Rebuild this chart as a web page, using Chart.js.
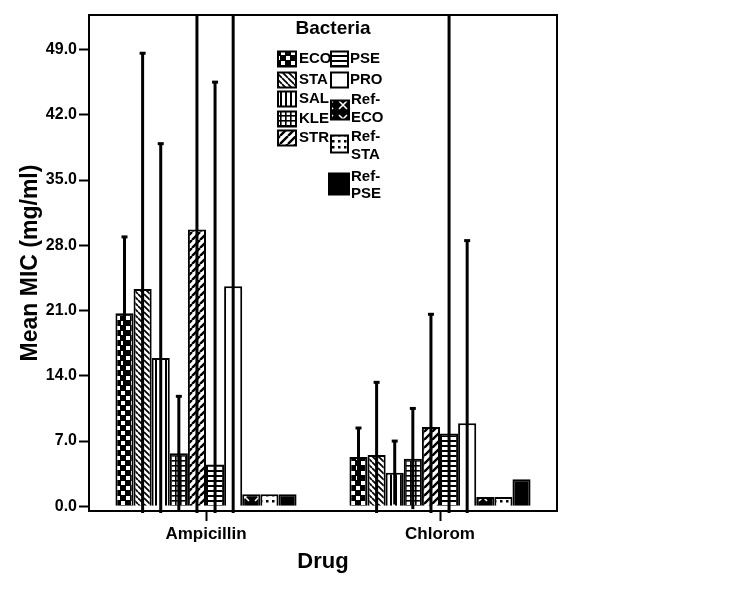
<!DOCTYPE html>
<html>
<head>
<meta charset="utf-8">
<script src="https://cdn.jsdelivr.net/npm/chart.js@4.4.1/dist/chart.umd.min.js"></script>
<style>
  html, body { margin: 0; padding: 0; background: #fff; }
  #wrap { width: 750px; height: 613px; }
</style>
</head>
<body>
<div id="wrap"><canvas id="c" width="750" height="613"></canvas></div>
<script>
// ---- data ----
const drugs = ['Ampicillin', 'Chlorom'];
const bacteria = ['ECO', 'STA', 'SAL', 'KLE', 'STR', 'PSE', 'PRO', 'Ref-ECO', 'Ref-STA', 'Ref-PSE'];
const meanAmpicillin = [20.7, 23.3, 15.9, 5.7, 29.7, 4.5, 23.6, 1.3, 1.3, 1.3];
const meanChlorom    = [5.3, 5.5, 3.6, 5.1, 8.5, 7.8, 8.9, 1.0, 1.0, 2.9];
// upper end of the error bars (null = no error bar)
const upperAmpicillin = [28.9, 48.6, 38.9, 11.8, 62.0, 45.5, 64.0, null, null, null];
const upperChlorom    = [8.4, 13.3, 7.0, 10.5, 20.6, 60.0, 28.5, null, null, null];
const yTicks = [0, 7, 14, 21, 28, 35, 42, 49];
const yTitle = 'Mean MIC (mg/ml)';
const xTitle = 'Drug';
const legendTitle = 'Bacteria';

Chart.defaults.font.family = '"Liberation Sans", Arial, Helvetica, sans-serif';
Chart.defaults.font.weight = 'bold';
Chart.defaults.color = '#000';

const canvas = document.getElementById('c');
const ctx = canvas.getContext('2d');

function makePattern(w, h, bg, draw) {
  const c = document.createElement('canvas');
  c.width = w; c.height = h;
  const g = c.getContext('2d');
  g.fillStyle = bg; g.fillRect(0, 0, w, h);
  g.fillStyle = '#000'; g.strokeStyle = '#000';
  draw(g, w, h);
  return ctx.createPattern(c, 'repeat');
}

const fills = [
  // ECO checker
  makePattern(10, 10, '#000', (g) => { g.fillStyle = '#fff'; g.fillRect(1, 1, 4, 4); g.fillRect(6, 6, 4, 4); }),
  // STA backslash
  makePattern(6, 6, '#fff', (g) => { g.lineWidth = 1.7; g.beginPath();
    for (const k of [-6, 0, 6]) { g.moveTo(k, 0); g.lineTo(k + 6, 6); } g.stroke(); }),
  // SAL vertical
  makePattern(5, 4, '#fff', (g) => { g.fillRect(0, 0, 2, 4); }),
  // KLE grid
  makePattern(5, 5, '#fff', (g) => { g.fillRect(0, 0, 5, 1.6); g.fillRect(0, 0, 1.6, 5); }),
  // STR slash
  makePattern(8, 8, '#fff', (g) => { g.lineWidth = 2.4; g.beginPath();
    for (const k of [-8, 0, 8]) { g.moveTo(k, 8); g.lineTo(k + 8, 0); } g.stroke(); }),
  // PSE horizontal
  makePattern(4, 5, '#fff', (g) => { g.fillRect(0, 0, 4, 2); }),
  // PRO empty
  '#fff',
  // Ref-ECO black with white X
  makePattern(14, 14, '#000', (g) => { g.strokeStyle = '#fff'; g.lineWidth = 1.6; g.beginPath();
    g.moveTo(3, 3); g.lineTo(11, 11); g.moveTo(11, 3); g.lineTo(3, 11); g.stroke(); }),
  // Ref-STA dotted
  makePattern(6, 6, '#fff', (g) => { g.fillRect(2, 2, 2.5, 2.5); }),
  // Ref-PSE solid
  '#000'
];

const datasets = bacteria.map((name, i) => ({
  label: name,
  data: [meanAmpicillin[i], meanChlorom[i]],
  upper: [upperAmpicillin[i], upperChlorom[i]],
  backgroundColor: fills[i],
  borderColor: '#000',
  borderWidth: 2,
  categoryPercentage: 0.774,
  barPercentage: 1.0
}));

const errorBars = {
  id: 'errorBars',
  afterDatasetsDraw(chart) {
    const c = chart.ctx, area = chart.chartArea, ys = chart.scales.y;
    c.save();
    c.strokeStyle = '#000';
    c.lineWidth = 3;
    chart.data.datasets.forEach((ds, i) => {
      const meta = chart.getDatasetMeta(i);
      meta.data.forEach((bar, j) => {
        const up = ds.upper[j];
        if (up == null) return;
        const lo = 2 * ds.data[j] - up;
        const yU = ys.getPixelForValue(up);
        const yL = ys.getPixelForValue(lo);
        const top = Math.max(yU, area.top);
        const bot = Math.min(yL, area.bottom + 2);
        c.beginPath();
        c.moveTo(bar.x, top); c.lineTo(bar.x, bot);
        c.stroke();
        if (yU >= area.top) {
          c.beginPath(); c.moveTo(bar.x - 3, yU); c.lineTo(bar.x + 3, yU); c.stroke();
        }
      });
    });
    // plot frame
    c.lineWidth = 2;
    c.strokeRect(area.left, area.top, area.right - area.left, area.bottom - area.top);
    c.restore();
  }
};

const customLegend = {
  id: 'customLegend',
  afterDraw(chart) {
    const c = chart.ctx;
    c.save();
    c.fillStyle = '#000';
    c.textBaseline = 'middle';
    c.font = 'bold 19px "Liberation Sans", Arial, sans-serif';
    c.textAlign = 'center';
    c.fillText(legendTitle, 333, 29);
    c.font = 'bold 15px "Liberation Sans", Arial, sans-serif';
    c.textAlign = 'left';
    // [swatchX, swatchY(center), w, h, textX, text line y's]
    const items = [
      [278, 59, 18, 15, 299, [59]],
      [278, 80, 18, 15, 299, [80]],
      [278, 99, 18, 15, 299, [99]],
      [278, 119, 18, 15, 299, [119]],
      [278, 138, 18, 15, 299, [138]],
      [331, 59, 17, 15, 350, [59]],
      [331, 80, 17, 15, 350, [80]],
      [331, 110, 18, 19, 351, [100, 118]],
      [331, 144, 17, 17, 351, [137, 155]],
      [329, 184, 20, 21, 351, [177, 194]]
    ];
    items.forEach((it, i) => {
      const [sx, sy, w, h, tx, lines] = it;
      c.fillStyle = fills[i];
      c.fillRect(sx, sy - h / 2, w, h);
      c.strokeStyle = '#000'; c.lineWidth = 2;
      c.strokeRect(sx, sy - h / 2, w, h);
      c.fillStyle = '#000';
      const name = bacteria[i];
      const parts = lines.length > 1 ? [name.slice(0, name.indexOf('-') + 1), name.slice(name.indexOf('-') + 1)] : [name];
      parts.forEach((p, k) => c.fillText(p, tx, lines[k]));
    });
    c.restore();
  }
};

new Chart(canvas, {
  type: 'bar',
  data: { labels: drugs, datasets },
  options: {
    responsive: false,
    animation: false,
    devicePixelRatio: 1,
    layout: { padding: { top: 15, right: 193, left: 0, bottom: 0 } },
    plugins: { legend: { display: false }, tooltip: { enabled: false } },
    scales: {
      x: {
        offset: true,
        afterFit(s) { s.height = 102; },
        grid: { offset: false, drawOnChartArea: false, drawTicks: true, tickLength: 10, tickWidth: 2, tickColor: '#000' },
        border: { display: true, color: '#000', width: 2 },
        ticks: { padding: 3, font: { size: 17, weight: 'bold' }, color: '#000' },
        title: { display: true, text: xTitle, font: { size: 22, weight: 'bold' }, color: '#000', padding: { top: 0, bottom: 38 } }
      },
      y: {
        min: -0.5,
        max: 52.7,
        afterFit(s) { s.width = 89; },
        afterBuildTicks(s) { s.ticks = yTicks.map(v => ({ value: v })); },
        grid: { drawOnChartArea: false, drawTicks: true, tickLength: 10, tickWidth: 2, tickColor: '#000' },
        border: { display: true, color: '#000', width: 2 },
        ticks: { padding: 2, font: { size: 16, weight: 'bold' }, color: '#000', callback: v => Number(v).toFixed(1) },
        title: { display: true, text: yTitle, font: { size: 23, weight: 'bold' }, color: '#000', padding: { top: 17, bottom: 0 } }
      }
    }
  },
  plugins: [errorBars, customLegend]
});
</script>
</body>
</html>
